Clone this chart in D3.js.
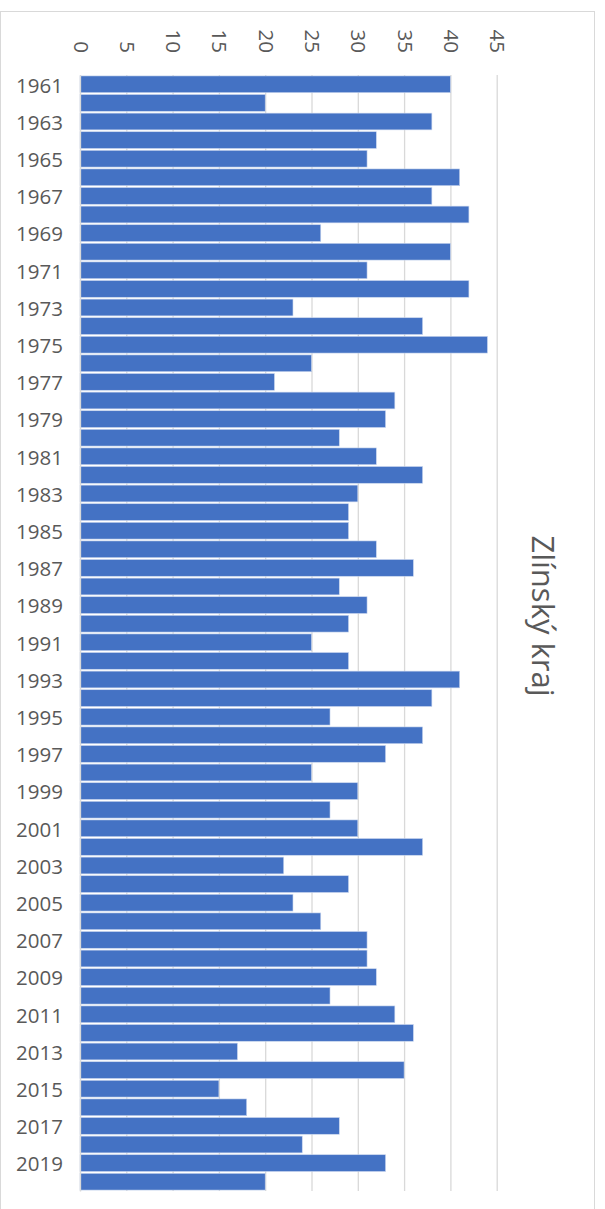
<!DOCTYPE html>
<html>
<head>
<meta charset="utf-8">
<script src="https://cdn.jsdelivr.net/npm/d3@7"></script>
<style>
  body { margin: 0; background: #fff; }
  text { font-family: "Open Sans", "Liberation Sans", sans-serif; fill: #595959; }
</style>
</head>
<body>
<div id="chart"></div>
<script>
// data
const years = d3.range(1961, 2021).map(String);
const values = [
  40, 20, 38, 32, 31, 41, 38, 42, 26, 40,
  31, 42, 23, 37, 44, 25, 21, 34, 33, 28,
  32, 37, 30, 29, 29, 32, 36, 28, 31, 29,
  25, 29, 41, 38, 27, 37, 33, 25, 30, 27,
  30, 37, 22, 29, 23, 26, 31, 31, 32, 27,
  34, 36, 17, 35, 15, 18, 28, 24, 33, 20
];
const xTicks = [0, 5, 10, 15, 20, 25, 30, 35, 40, 45];
const title = "Zlínský kraj";

const W = 605, H = 1209;
const plot = { left: 80, right: 496.7, top: 75, bottom: 1191 };

const svg = d3.select("#chart")
  .append("svg")
  .attr("width", W)
  .attr("height", H);

// chart border
svg.append("rect")
  .attr("x", 0.5).attr("y", 11.5)
  .attr("width", 594).attr("height", 1230)
  .attr("fill", "#fff")
  .attr("stroke", "#d9d9d9")
  .attr("stroke-width", 1);

const x = d3.scaleLinear()
  .domain([0, 45])
  .range([plot.left, plot.right]);

const y = d3.scaleBand()
  .domain(years)
  .range([plot.top, plot.bottom])
  .paddingInner(0.1)
  .paddingOuter(0.05);

// grid + value labels (axis on top, labels turned)
const xAxis = svg.append("g")
  .attr("transform", `translate(0, ${plot.top})`)
  .call(d3.axisTop(x).tickValues(xTicks).tickSize(-(plot.bottom - plot.top)).tickPadding(0));
xAxis.select(".domain").remove();
xAxis.selectAll("line")
  .attr("stroke", "#d9d9d9")
  .attr("stroke-width", 1.3);
xAxis.selectAll("text")
  .attr("x", 0).attr("y", 0)
  .attr("transform", `translate(-7, ${53 - plot.top}) rotate(90)`)
  .attr("text-anchor", "end")
  .attr("dy", 0)
  .style("font-size", "20.5px")
  .style("fill", "#595959");

// bars
svg.append("g")
  .selectAll("rect")
  .data(values)
  .join("rect")
  .attr("x", x(0))
  .attr("y", (d, i) => y(years[i]))
  .attr("width", d => x(d) - x(0))
  .attr("height", y.bandwidth())
  .attr("fill", "#4472c4")
  .attr("stroke", "#c9d6ee")
  .attr("stroke-width", 0.6);

// category axis
const yAxis = svg.append("g")
  .attr("transform", `translate(${plot.left}, 0)`)
  .call(d3.axisLeft(y)
    .tickValues(years.filter((d, i) => i % 2 === 0))
    .tickSize(0)
    .tickPadding(17));
yAxis.select(".domain")
  .attr("stroke", "#d9d9d9")
  .attr("stroke-width", 1.3);
yAxis.selectAll("text")
  .attr("dy", "0.36em")
  .attr("y", 1)
  .style("font-size", "20.5px")
  .style("fill", "#595959");

// title, turned
svg.append("text")
  .attr("transform", "translate(532, 616) rotate(90)")
  .attr("text-anchor", "middle")
  .style("font-size", "31px")
  .text(title);
</script>
</body>
</html>
